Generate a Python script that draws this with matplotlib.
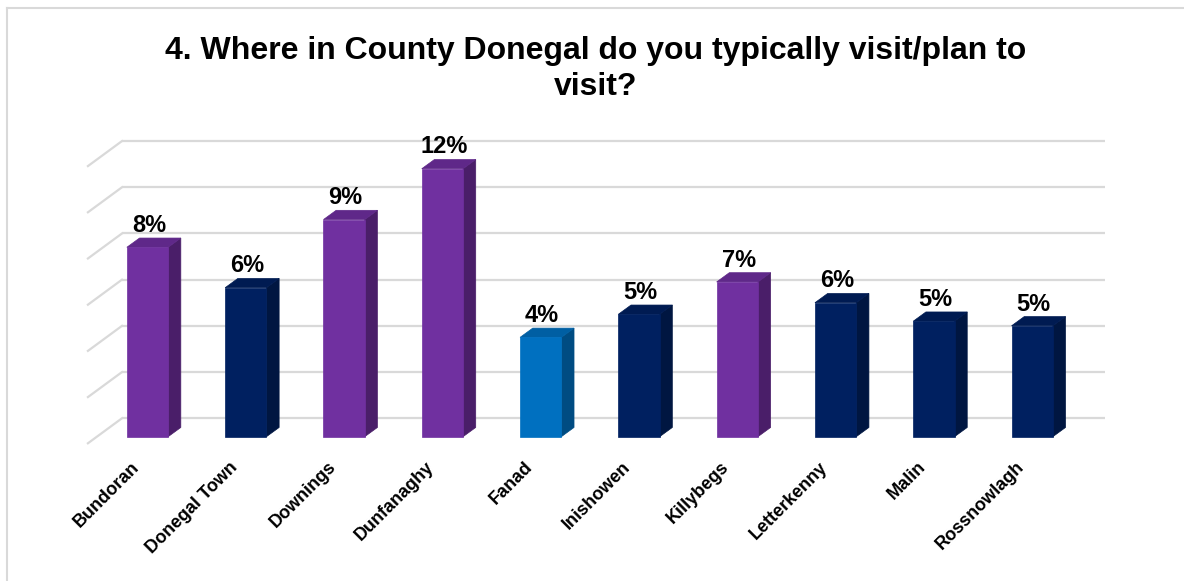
import numpy as np
import matplotlib.pyplot as plt
from matplotlib.patches import Polygon

# Share of respondents (%) per location
places = ['Bundoran', 'Donegal Town', 'Downings', 'Dunfanaghy', 'Fanad',
          'Inishowen', 'Killybegs', 'Letterkenny', 'Malin', 'Rossnowlagh']
shares = [8.2, 6.45, 9.4, 11.6, 4.3, 5.3, 6.7, 5.8, 5.0, 4.8]
bar_colors = ['purple', 'navy', 'purple', 'purple', 'blue',
              'navy', 'purple', 'navy', 'navy', 'navy']
grid_values = [0, 2, 4, 6, 8, 10, 12]
title = '4. Where in County Donegal do you typically visit/plan to\nvisit?'

# front / side / top shades for the fake 3D columns
palette = {
    'purple': ('#7030A0', '#4A1E69', '#5F2889'),
    'navy':   ('#002060', '#001641', '#001B52'),
    'blue':   ('#0070C0', '#004C82', '#005FA3'),
}

plt.rcParams['font.family'] = ['Liberation Sans', 'DejaVu Sans']

W, H, DPI = 1184, 581, 100
fig = plt.figure(figsize=(W / DPI, H / DPI), dpi=DPI)
ax = fig.add_axes([0, 0, 1, 1])

# one category = 98.3 px, 1% = 23.1 px, first bar centre at x=147.5, zero line at y=436.7
px_x, px_y = 98.3, 23.1
x0, y0 = 147.5, 436.7
ax.set_xlim(-x0 / px_x, (W - x0) / px_x)
ax.set_ylim(-(H - y0) / px_y, y0 / px_y)
ax.axis('off')

# back wall gridlines with the side-wall diagonals
wall_left, wall_right = -0.26, 9.74
wall_rise = 0.797
side_dx, side_dy = 0.346, 1.082
for g in grid_values:
    yb = g + wall_rise
    ax.plot([wall_left, wall_right], [yb, yb], color='#D9D9D9', lw=1.6,
            solid_capstyle='butt', zorder=1)
    ax.plot([wall_left - side_dx, wall_left], [yb - side_dy, yb],
            color='#D9D9D9', lw=1.6, zorder=1)

# columns
half = 0.21
dx, dy = 0.129, 0.40
for i, (val, key) in enumerate(zip(shares, bar_colors)):
    front, side, top = palette[key]
    l, r = i - half, i + half
    ax.add_patch(Polygon([(r, 0), (r + dx, dy), (r + dx, val + dy), (r, val)],
                         closed=True, fc=side, ec=side, lw=0.5, zorder=3))
    ax.add_patch(Polygon([(l, val), (l + dx, val + dy), (r + dx, val + dy), (r, val)],
                         closed=True, fc=top, ec=top, lw=0.5, zorder=3))
    ax.add_patch(Polygon([(l, 0), (r, 0), (r, val), (l, val)],
                         closed=True, fc=front, ec=front, lw=0.5, zorder=4))
    ax.text(i + 0.015, val + dy + 0.26, f'{val:.0f}%', ha='center', va='baseline',
            fontsize=17, fontweight='bold', color='black', zorder=5)
    ax.text(i - 0.11, -1.2, places[i], rotation=45, rotation_mode='anchor',
            ha='right', va='center', fontsize=13, fontweight='bold', color='black')

fig.text(596 / W, 1 - 36 / H, title, ha='center', va='top', fontsize=23,
         fontweight='bold', linespacing=1.25, transform=fig.transFigure)

# outer frame (only top and left edges fall inside the image)
fig.add_artist(plt.Line2D([7 / W, 7 / W], [0, 1 - 8 / H], color='#D9D9D9', lw=1.5,
                          transform=fig.transFigure))
fig.add_artist(plt.Line2D([7 / W, 1], [1 - 8 / H, 1 - 8 / H], color='#D9D9D9', lw=1.5,
                          transform=fig.transFigure))

fig.savefig('out.png', dpi=DPI)
